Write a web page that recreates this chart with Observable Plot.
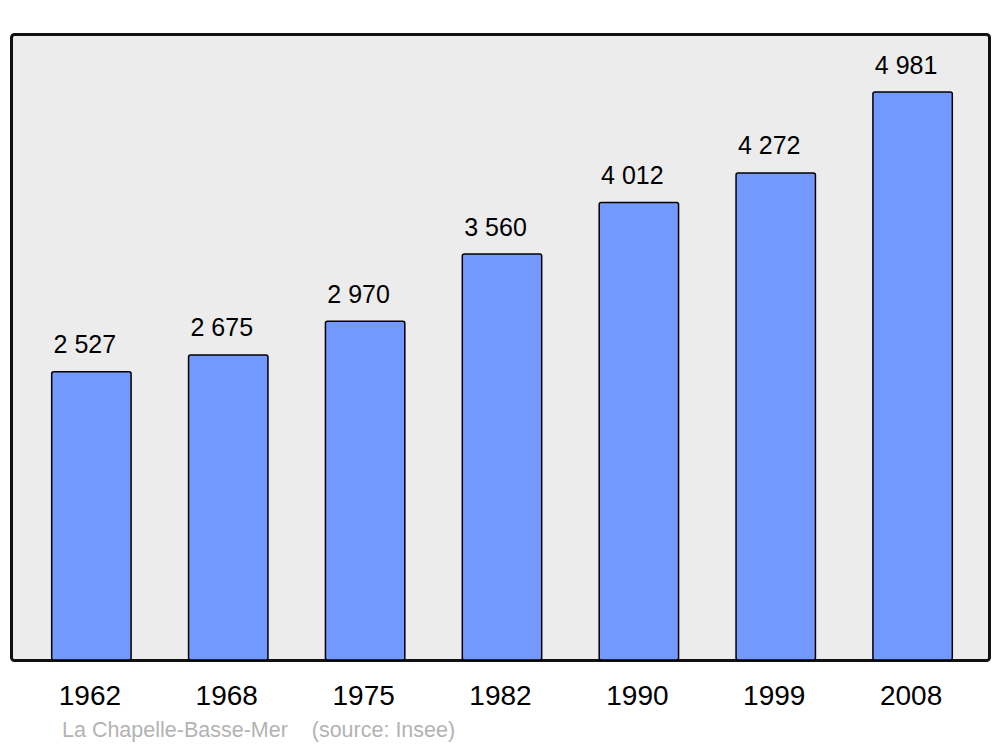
<!DOCTYPE html>
<html>
<head>
<meta charset="utf-8">
<script src="https://cdn.jsdelivr.net/npm/d3@7"></script>
<script src="https://cdn.jsdelivr.net/npm/@observablehq/plot@0.6"></script>
<style>
  html, body { margin: 0; padding: 0; background: #fff; }
  #wrap { position: relative; width: 1000px; height: 747px; font-family: "Liberation Sans", Arial, sans-serif; }
  #caption { position: absolute; left: 62px; top: 720px; font-size: 21.5px; line-height: 1; color: #b3b3b3; white-space: pre; }
</style>
</head>
<body>
<div id="wrap"><div id="chart"></div><div id="caption">La Chapelle-Basse-Mer    (source: Insee)</div></div>
<script>
const years = ["1962", "1968", "1975", "1982", "1990", "1999", "2008"];
const population = [2527, 2675, 2970, 3560, 4012, 4272, 4981];

const data = years.map((y, i) => ({year: y, value: population[i]}));
const fmt = n => String(n).replace(/\B(?=(\d{3})+(?!\d))/g, " ");

const chart = Plot.plot({
  width: 1000,
  height: 712,
  marginTop: 34,
  marginBottom: 52,
  marginLeft: 11,
  marginRight: 11,
  style: {fontFamily: "Liberation Sans, Arial, sans-serif", background: "transparent"},
  x: {domain: years, range: [12, 992], round: false, paddingInner: 0.42, paddingOuter: 0.29, label: null},
  y: {domain: [0, 5490], axis: null},
  marks: [
    Plot.frame({fill: "#ececec", stroke: "#111", strokeWidth: 3, rx: 3}),
    Plot.barY(data, {x: "year", y: "value", fill: "#7399ff", stroke: "#000", strokeWidth: 1.5, rx: 2}),
    Plot.text(data, {x: "year", y: "value", text: d => fmt(d.value), dy: -19, dx: -7, lineAnchor: "bottom", fontSize: 25, fill: "#000"}),
    Plot.axisX({tickSize: 0, tickPadding: 25, dx: -2, fontSize: 28, color: "#000", label: null})
  ]
});
document.getElementById("chart").appendChild(chart);
</script>
</body>
</html>
